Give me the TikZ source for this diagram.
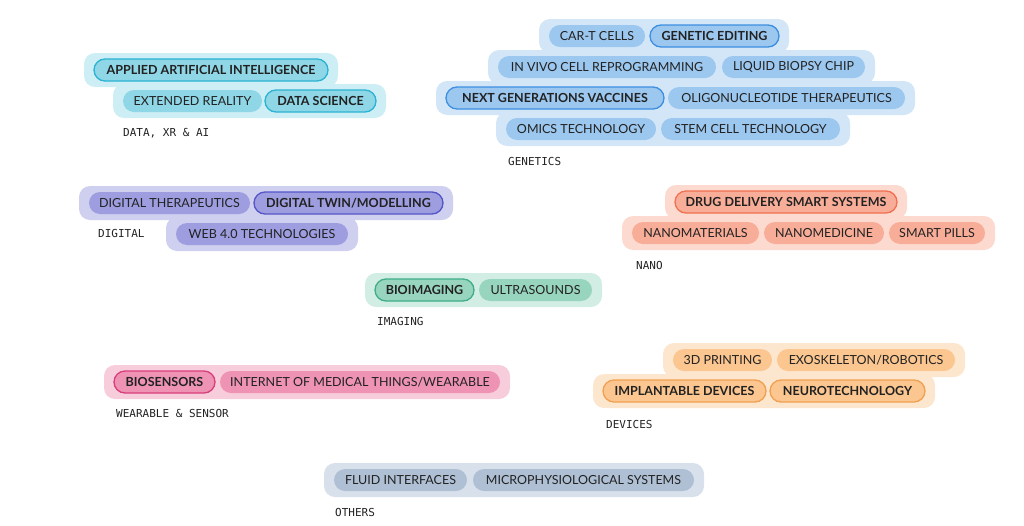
\documentclass[tikz,border=0pt]{standalone}
\usepackage{fontspec}
\setmainfont{Lato}
\newfontfamily\labelfont{DejaVu Sans Mono}
\definecolor{aiBg}{HTML}{CDEEF5}\definecolor{aiPill}{HTML}{8FD6E6}\definecolor{aiLine}{HTML}{2AB3D3}
\definecolor{geBg}{HTML}{D3E6F8}\definecolor{gePill}{HTML}{9CC7EF}\definecolor{geLine}{HTML}{3D8FE0}
\definecolor{diBg}{HTML}{CFCFEF}\definecolor{diPill}{HTML}{9D9DE0}\definecolor{diLine}{HTML}{5555C8}
\definecolor{naBg}{HTML}{FDDAD0}\definecolor{naPill}{HTML}{F8AD98}\definecolor{naLine}{HTML}{F07050}
\definecolor{imBg}{HTML}{D2EDE3}\definecolor{imPill}{HTML}{98D5BE}\definecolor{imLine}{HTML}{3FAE88}
\definecolor{weBg}{HTML}{F7CDDC}\definecolor{wePill}{HTML}{EE93B4}\definecolor{weLine}{HTML}{D93D7A}
\definecolor{deBg}{HTML}{FDE6CE}\definecolor{dePill}{HTML}{FBC690}\definecolor{deLine}{HTML}{F0A050}
\definecolor{otBg}{HTML}{D8E1EB}\definecolor{otPill}{HTML}{AFC0D5}\definecolor{otLine}{HTML}{7F95B5}
\definecolor{txt}{HTML}{222222}
% pill(name, x1, x2, y, style, text)
\newcommand{\pill}[6]{\node[pill,#5,minimum width=#3-#2] (#1) at ({(#2+#3)/2},#4) {#6};}
% row band behind the pills of one group
\newcommand{\band}[4]{\fill[#4, rounded corners=11pt] (#1-10,#3-17) rectangle (#2+10,#3+17);}
\begin{document}
\begin{tikzpicture}[x=1pt, y=-1pt,
    pill/.style={rounded corners=11pt, minimum height=22pt, inner sep=0pt,
      font=\fontsize{12.5}{14}\selectfont, text=txt},
    key/.style={line width=1.3pt, font=\fontsize{12.5}{14}\selectfont\bfseries},
    ai/.style={fill=aiPill}, aiKey/.style={ai, key, draw=aiLine},
    ge/.style={fill=gePill}, geKey/.style={ge, key, draw=geLine},
    di/.style={fill=diPill}, diKey/.style={di, key, draw=diLine},
    na/.style={fill=naPill}, naKey/.style={na, key, draw=naLine},
    im/.style={fill=imPill}, imKey/.style={im, key, draw=imLine},
    we/.style={fill=wePill}, weKey/.style={we, key, draw=weLine},
    de/.style={fill=dePill}, deKey/.style={de, key, draw=deLine},
    ot/.style={fill=otPill},
    grouplabel/.style={anchor=west, inner sep=0pt, font=\labelfont\fontsize{11}{12}\selectfont, text=txt}]
  \useasboundingbox (0,0) rectangle (1024,525);

  % DATA, XR & AI
  \band{94}{328}{70}{aiBg}
  \band{123}{376}{101}{aiBg}
  \pill{aai}{94}{328}{70}{aiKey}{APPLIED ARTIFICIAL INTELLIGENCE}
  \pill{xr}{123}{262}{101}{ai}{EXTENDED REALITY}
  \pill{ds}{265}{376}{101}{aiKey}{DATA SCIENCE}
  \node[grouplabel] (aiLabel) at (123,133) {DATA, XR \& AI};

  % GENETICS
  \band{549}{779}{36}{geBg}
  \band{498}{865}{67}{geBg}
  \band{446}{905}{98}{geBg}
  \band{506}{840}{129}{geBg}
  \pill{cart}{549}{645}{36}{ge}{CAR-T CELLS}
  \pill{gedit}{650}{779}{36}{geKey}{GENETIC EDITING}
  \pill{vivo}{498}{716}{67}{ge}{IN VIVO CELL REPROGRAMMING}
  \pill{biopsy}{722}{865}{67}{ge}{LIQUID BIOPSY CHIP}
  \pill{vacc}{446}{664}{98}{geKey}{NEXT GENERATIONS VACCINES}
  \pill{oligo}{668}{905}{98}{ge}{OLIGONUCLEOTIDE THERAPEUTICS}
  \pill{omics}{506}{656}{129}{ge}{OMICS TECHNOLOGY}
  \pill{stem}{661}{840}{129}{ge}{STEM CELL TECHNOLOGY}
  \node[grouplabel] (geLabel) at (508,161) {GENETICS};

  % DIGITAL
  \band{89}{443}{203}{diBg}
  \band{176}{348}{234}{diBg}
  \pill{dther}{89}{250}{203}{di}{DIGITAL THERAPEUTICS}
  \pill{twin}{254}{443}{203}{diKey}{DIGITAL TWIN/MODELLING}
  \pill{web}{176}{348}{234}{di}{WEB 4.0 TECHNOLOGIES}
  \node[grouplabel] (diLabel) at (98,233) {DIGITAL};

  % NANO
  \band{675}{897}{202}{naBg}
  \band{632}{985}{233}{naBg}
  \pill{drug}{675}{897}{202}{naKey}{DRUG DELIVERY SMART SYSTEMS}
  \pill{nmat}{632}{759}{233}{na}{NANOMATERIALS}
  \pill{nmed}{764}{884}{233}{na}{NANOMEDICINE}
  \pill{pills}{889}{985}{233}{na}{SMART PILLS}
  \node[grouplabel] (naLabel) at (636,265) {NANO};

  % IMAGING
  \band{375}{592}{290}{imBg}
  \pill{bioim}{375}{474}{290}{imKey}{BIOIMAGING}
  \pill{ultra}{479}{592}{290}{im}{ULTRASOUNDS}
  \node[grouplabel] (imLabel) at (377,321) {IMAGING};

  % WEARABLE & SENSOR
  \band{114}{500}{382}{weBg}
  \pill{biosens}{114}{215}{382}{weKey}{BIOSENSORS}
  \pill{iomt}{220}{500}{382}{we}{INTERNET OF MEDICAL THINGS/WEARABLE}
  \node[grouplabel] (weLabel) at (116,413) {WEARABLE \& SENSOR};

  % DEVICES
  \band{673}{955}{360}{deBg}
  \band{603}{925}{391}{deBg}
  \pill{print}{673}{772}{360}{de}{3D PRINTING}
  \pill{exo}{777}{955}{360}{de}{EXOSKELETON/ROBOTICS}
  \pill{impl}{603}{766}{391}{deKey}{IMPLANTABLE DEVICES}
  \pill{neuro}{770}{925}{391}{deKey}{NEUROTECHNOLOGY}
  \node[grouplabel] (deLabel) at (606,424) {DEVICES};

  % OTHERS
  \band{334}{694}{480}{otBg}
  \pill{fluid}{334}{467}{480}{ot}{FLUID INTERFACES}
  \pill{micro}{473}{694}{480}{ot}{MICROPHYSIOLOGICAL SYSTEMS}
  \node[grouplabel] (otLabel) at (335,512) {OTHERS};
\end{tikzpicture}
\end{document}
